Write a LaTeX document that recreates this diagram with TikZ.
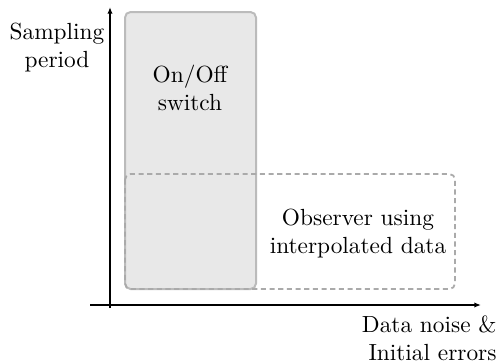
\documentclass[tikz,border=0pt]{standalone}
\usetikzlibrary{arrows.meta}
\definecolor{boxfill}{HTML}{E8E8E8}
\definecolor{boxline}{HTML}{BBBBBB}
\definecolor{dashline}{HTML}{AAAAAA}
\begin{document}
\begin{tikzpicture}[x=0.45pt,y=-0.45pt,
  axis/.style={line width=0.6pt,-{Latex[length=3pt,width=2.4pt]}},
  lbl/.style={align=center,inner sep=0pt,font=\fontsize{10.5}{12.6}\selectfont},
  region/.style={draw=boxline,fill=boxfill,line width=0.9pt,rounded corners=2.5pt},
  dregion/.style={draw=dashline,dash pattern=on 2.3pt off 1.6pt,line width=0.8pt,rounded corners=2.5pt}]
\useasboundingbox (0,0) rectangle (498,362);
\coordinate (yb) at (110,308);
\coordinate (yt) at (110,7);
\coordinate (xl) at (90,305);
\coordinate (xr) at (481,305);
\draw[region] (125,12) rectangle (256,289);
\draw[dregion] (125,174) rectangle (455,289);
\draw[axis] (yb) -- (yt);
\draw[axis] (xl) -- (xr);
\node[lbl,anchor=north] (yl) at (57,23) {Sampling\\period};
\node[lbl,anchor=north] (sw) at (190,65) {On/Off\\switch};
\node[lbl,anchor=north] (ob) at (358,209) {Observer using\\interpolated data};
\node[lbl,align=right,anchor=south east] (xlab) at (497,361) {Data noise \&\\Initial errors};
\end{tikzpicture}
\end{document}
